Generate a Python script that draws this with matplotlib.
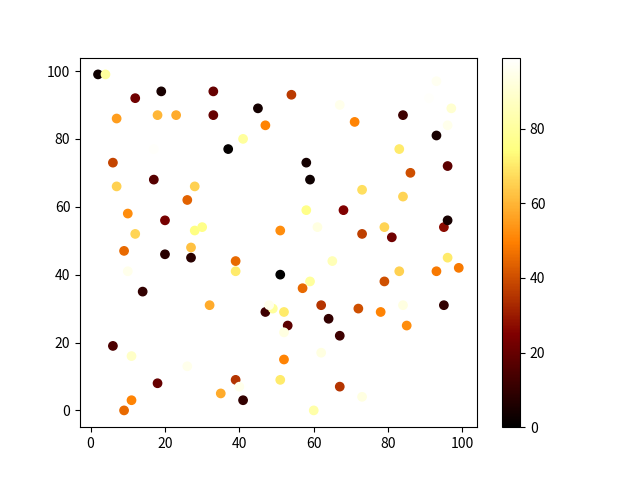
import matplotlib
matplotlib.use("Agg")
import matplotlib.pyplot as plt

plt.rcParams['font.family'] = ['Noto Sans CJK SC', 'DejaVu Sans']

x = [2, 4, 12, 19, 33, 7, 18, 23, 33, 45, 47, 41, 37, 17, 6, 7, 17, 28, 26, 10,
     20, 12, 28, 30, 51, 27, 54, 67, 71, 84, 93, 91, 97, 96, 93, 83, 58, 59, 86, 96,
     73, 84, 58, 68, 61, 73, 79, 81, 95, 96, 9, 20, 27, 39, 39, 51, 10, 14, 32, 31,
     47, 49, 48, 6, 11, 26, 18, 39, 40, 35, 41, 11, 9, 65, 59, 57, 52, 53, 52, 62,
     64, 67, 72, 78, 84, 79, 83, 93, 96, 99, 95, 85, 78, 62, 52, 51, 67, 73, 60]
y = [99, 99, 92, 94, 94, 86, 87, 87, 87, 89, 84, 80, 77, 77, 73, 66, 68, 66, 62, 58,
     56, 52, 53, 54, 53, 48, 93, 90, 85, 87, 97, 92, 89, 84, 81, 77, 73, 68, 70, 72,
     65, 63, 59, 59, 54, 52, 54, 51, 54, 56, 47, 46, 45, 44, 41, 40, 41, 35, 31, 28,
     29, 30, 31, 19, 16, 13, 8, 9, 7, 5, 3, 3, 0, 44, 38, 36, 29, 25, 23, 31,
     27, 22, 30, 29, 31, 38, 41, 41, 45, 42, 31, 25, 22, 17, 15, 9, 7, 4, 0]
c = [3, 80, 22, 5, 20, 55, 60, 58, 20, 4, 50, 80, 1, 98, 38, 65, 17, 65, 44, 52,
     23, 66, 75, 76, 52, 62, 36, 95, 50, 12, 96, 98, 90, 95, 5, 70, 4, 3, 40, 18,
     68, 66, 76, 25, 93, 37, 66, 22, 27, 5, 45, 8, 8, 45, 70, 0, 95, 10, 58, 99,
     12, 80, 95, 15, 88, 95, 20, 35, 95, 58, 10, 50, 45, 85, 80, 45, 70, 18, 93, 35,
     10, 12, 40, 50, 93, 40, 65, 48, 70, 48, 10, 52, 99, 93, 50, 70, 35, 93, 82]

fig = plt.figure(figsize=(6.4, 4.8), dpi=100)
sc = plt.scatter(x, y, c=c, cmap='afmhot')
plt.colorbar(sc)
plt.savefig('out.png')
